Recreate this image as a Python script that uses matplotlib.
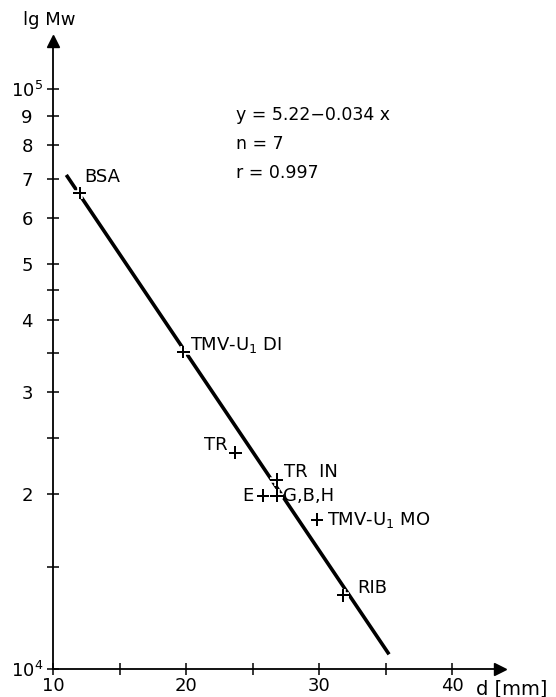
import matplotlib
matplotlib.use('Agg')
import matplotlib.pyplot as plt
import matplotlib.patheffects as pe

plt.rcParams['font.family'] = ['DejaVu Sans']
plt.rcParams['mathtext.default'] = 'regular'

# samples: name, d [mm], Mw
names = ['BSA', 'TMV-U$_1$ DI', 'TR', 'TR  IN', 'E', 'G,B,H', 'TMV-U$_1$ MO', 'RIB']
d_mm = [12.0, 19.8, 23.7, 26.8, 25.8, 26.8, 29.85, 31.8]
mw = [66200, 35200, 23600, 21200, 19900, 19900, 18100, 13400]
# label offsets in pixels (dx, dy) and alignment
offsets = [(5, 16), (7, 7), (-8, 8), (7, 8), (-10, 0), (6, 0), (10, 0), (14, 7)]
aligns = ['left', 'left', 'right', 'left', 'right', 'left', 'left', 'left']

# regression line end points
line_d = [11.0, 35.26]
line_mw = [71100, 10600]

xticks = [10, 15, 20, 25, 30, 35, 40]
xticklabels = ['10', '', '20', '', '30', '', '40']
yticks = [10000, 15000, 20000, 25000, 30000, 35000, 40000, 45000,
          50000, 60000, 70000, 80000, 90000, 100000]
yticklabels = ['10$^4$', '', '2', '', '3', '', '4', '', '5', '6', '7', '8', '9', '10$^5$']

stats = ['y = 5.22\u22120.034 x', 'n = 7', 'r = 0.997']

fig = plt.figure(figsize=(5.56, 6.97), dpi=100)
ax = fig.add_axes([53 / 556, 28 / 697, 447 / 556, 628 / 697])
ax.set_yscale('log')
ax.set_xlim(10, 43.6)
ax.set_ylim(1e4, 10 ** 5.0828)

ax.plot(line_d, line_mw, color='black', lw=2.6, solid_capstyle='butt')
ax.plot(d_mm, mw, ls='none', marker='+', ms=9, mew=1.4, color='black',
        path_effects=[pe.withStroke(linewidth=4, foreground='white'), pe.Normal()])

for name, x, y, (dx, dy), ha in zip(names, d_mm, mw, offsets, aligns):
    ax.annotate(name, (x, y), xytext=(dx, dy), textcoords='offset pixels',
                ha=ha, va='center', fontsize=13)

for s in ['top', 'right']:
    ax.spines[s].set_visible(False)
for s in ['left', 'bottom']:
    ax.spines[s].set_linewidth(1.3)

ax.minorticks_off()
ax.set_xticks(xticks)
ax.set_xticklabels(xticklabels, fontsize=13)
ax.set_yticks(yticks)
ax.set_yticklabels(yticklabels, fontsize=13, ha='center')
ax.yaxis.set_minor_locator(matplotlib.ticker.NullLocator())
ax.tick_params(axis='both', direction='inout', length=8, width=1.1)
ax.tick_params(axis='y', pad=14.7)
ax.tick_params(axis='x', pad=2)

# arrow heads on the axes
ax.plot(1, 0, '>k', ms=8, transform=ax.transAxes, clip_on=False)
ax.plot(0, 1, '^k', ms=8, transform=ax.transAxes, clip_on=False)

fig.text(23 / 556, 1 - 20 / 697, 'lg Mw', fontsize=13, va='center')
fig.text(476 / 556, 1 - 689 / 697, 'd [mm]', fontsize=14, va='center')

for i, s in enumerate(stats):
    fig.text(236 / 556, 1 - (115 + 29 * i) / 697, s, fontsize=12.5, va='center')

fig.savefig('out.png', dpi=100)
